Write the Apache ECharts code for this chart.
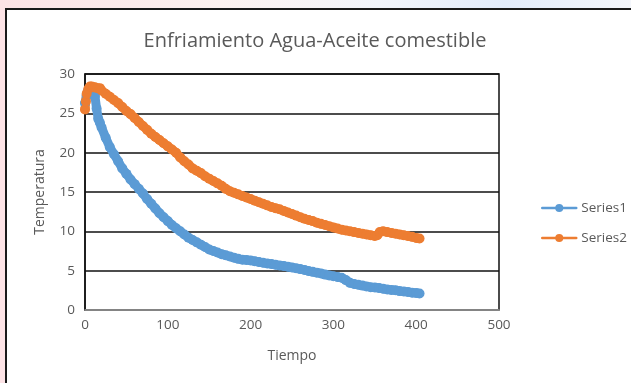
<!DOCTYPE html>
<html>
<head>
<meta charset="utf-8">
<script src="https://cdn.jsdelivr.net/npm/echarts@6/dist/echarts.min.js"></script>
<style>
  html, body { margin: 0; padding: 0; }
  body {
    width: 631px; height: 383px; overflow: hidden; position: relative;
    background: linear-gradient(90deg, #fde3e6 0%, #fdf2f0 35%, #f2f5fb 60%, #e3ecfb 80%, #f4f6fb 100%);
  }
  #frame {
    position: absolute; left: 5px; top: 8px; width: 640px; height: 390px;
    background: #fff; border-left: 2px solid #1a1a1a; border-top: 2px solid #1a1a1a;
  }
  #chart { position: absolute; left: 0; top: 0; width: 631px; height: 383px; }
</style>
</head>
<body>
<div id="frame"></div>
<div id="chart"></div>
<script>
// Series1 (blue) - tiempo / temperatura
const timeS1 = [0, 2, 4, 6, 8, 10, 12, 14, 16, 18, 20, 25, 30, 35, 40, 45, 50, 55, 60, 65, 70, 75, 80, 85, 90, 95,
  100, 105, 110, 115, 120, 125, 130, 135, 140, 145, 150, 155, 160, 165, 170, 175, 180, 185, 190, 195,
  200, 205, 210, 215, 220, 225, 230, 235, 240, 245, 250, 255, 260, 265, 270, 275, 280, 285, 290, 295,
  300, 305, 310, 315, 320, 325, 330, 335, 340, 345, 350, 355, 360, 365, 370, 375, 380, 385, 390, 395, 400, 404]
const tempS1 = [26.3, 27.3, 27.9, 28.2, 28.3, 28.1, 27.2, 25.6, 24.3, 23.8, 23.2, 21.9, 20.7, 19.8, 18.9, 18.0, 17.3, 16.6, 16.0, 15.4, 14.8, 14.1, 13.5, 12.9, 12.3, 11.8,
  11.3, 10.8, 10.4, 10.0, 9.6, 9.2, 8.9, 8.6, 8.3, 8.0, 7.7, 7.5, 7.3, 7.1, 6.95, 6.8, 6.65, 6.5, 6.4, 6.35,
  6.3, 6.2, 6.1, 6.0, 5.9, 5.85, 5.75, 5.65, 5.6, 5.5, 5.4, 5.3, 5.2, 5.1, 4.95, 4.85, 4.75, 4.65, 4.5, 4.4,
  4.3, 4.2, 4.1, 3.8, 3.45, 3.3, 3.2, 3.1, 3.0, 2.9, 2.85, 2.8, 2.7, 2.6, 2.55, 2.5, 2.4, 2.35, 2.3, 2.2, 2.15, 2.1]

// Series2 (orange)
const timeS2 = [0, 1, 2, 4, 6, 8, 10, 12, 15, 18, 20, 25, 30, 35, 40, 45, 50, 55, 60, 65, 70, 75, 80, 85, 90, 95,
  100, 105, 110, 115, 120, 125, 130, 135, 140, 145, 150, 155, 160, 165, 170, 175, 180, 185, 190, 195,
  200, 205, 210, 215, 220, 225, 230, 235, 240, 245, 250, 255, 260, 265, 270, 275, 280, 285, 290, 295,
  300, 305, 310, 315, 320, 325, 330, 335, 340, 345, 350, 353, 356, 360, 365, 370, 375, 380, 385, 390, 395, 400, 404]
const tempS2 = [25.5, 26.5, 27.5, 28.1, 28.4, 28.4, 28.3, 28.3, 28.2, 28.2, 27.9, 27.5, 27.1, 26.7, 26.3, 25.8, 25.3, 24.9, 24.4, 23.9, 23.4, 22.9, 22.4, 22.0, 21.6, 21.2,
  20.8, 20.4, 20.0, 19.4, 18.9, 18.5, 18.0, 17.7, 17.4, 17.0, 16.7, 16.4, 16.1, 15.8, 15.4, 15.1, 14.9, 14.7, 14.5, 14.3,
  14.1, 13.9, 13.7, 13.5, 13.3, 13.1, 12.95, 12.8, 12.6, 12.4, 12.2, 12.0, 11.8, 11.6, 11.45, 11.3, 11.1, 10.95, 10.8, 10.65,
  10.5, 10.35, 10.2, 10.1, 10.0, 9.9, 9.8, 9.7, 9.6, 9.5, 9.4, 9.5, 9.9, 10.0, 9.9, 9.8, 9.7, 9.6, 9.5, 9.4, 9.3, 9.15, 9.1]

const seriesNames = ['Series1', 'Series2']
const seriesColors = ['#5b9bd5', '#ed7d31']

const font = '"Open Sans", sans-serif'
const zip = (xs, ys) => xs.map((x, i) => [x, ys[i]])

// dense markers in the original make a thick band, so the line itself is drawn wide
const makeSeries = (i, xs, ys) => ({
  name: seriesNames[i],
  type: 'line',
  data: zip(xs, ys),
  symbol: 'circle',
  symbolSize: 10,
  showAllSymbol: true,
  color: seriesColors[i],
  lineStyle: {width: 9, color: seriesColors[i], cap: 'round', join: 'round'},
  itemStyle: {color: seriesColors[i]}
})

const chart = echarts.init(document.getElementById('chart'))
chart.setOption({
  backgroundColor: 'transparent',
  animation: false,
  title: {
    text: 'Enfriamiento Agua-Aceite comestible',
    left: 310,
    textAlign: 'center',
    top: 26,
    textStyle: {color: '#595959', fontFamily: font, fontSize: 20, fontWeight: 'normal'}
  },
  grid: {
    left: 85,
    top: 74,
    right: 132,
    bottom: 73,
    show: true,
    borderColor: '#111',
    borderWidth: 1.5
  },
  legend: {
    orient: 'vertical',
    left: 536,
    top: 196,
    itemGap: 16,
    itemWidth: 34,
    itemHeight: 10,
    lineStyle: {width: 2.5},
    textStyle: {color: '#595959', fontFamily: font, fontSize: 13.5},
    data: seriesNames
  },
  xAxis: {
    type: 'value',
    min: 0,
    max: 500,
    interval: 100,
    name: 'Tiempo',
    nameLocation: 'middle',
    nameGap: 39,
    nameTextStyle: {color: '#595959', fontFamily: font, fontSize: 14},
    axisLine: {show: true, lineStyle: {color: '#a6a6a6', width: 1.5}},
    axisTick: {show: false},
    axisLabel: {color: '#595959', fontFamily: font, fontSize: 13.5, margin: 8},
    splitLine: {show: false}
  },
  yAxis: {
    type: 'value',
    min: 0,
    max: 30,
    interval: 5,
    name: 'Temperatura',
    nameLocation: 'middle',
    nameGap: 38,
    nameTextStyle: {color: '#595959', fontFamily: font, fontSize: 14},
    axisLine: {show: true, lineStyle: {color: '#111', width: 1.5}},
    axisTick: {show: false},
    axisLabel: {color: '#595959', fontFamily: font, fontSize: 13.5, margin: 10},
    splitLine: {show: true, lineStyle: {color: '#111', width: 1.5}}
  },
  series: [
    makeSeries(0, timeS1, tempS1),
    makeSeries(1, timeS2, tempS2)
  ]
})
</script>
</body>
</html>
